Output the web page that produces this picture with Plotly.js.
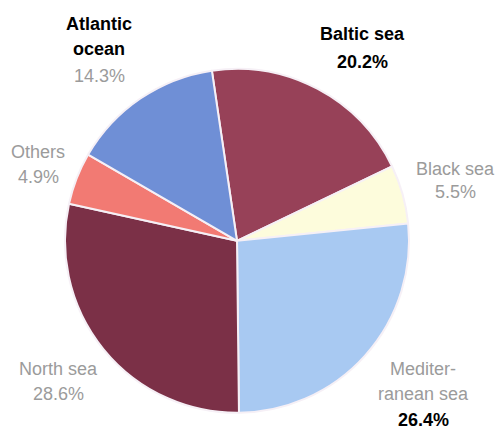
<!DOCTYPE html>
<html>
<head>
<meta charset="utf-8">
<script src="https://cdn.plot.ly/plotly-3.0.1.min.js"></script>
<style>html,body{margin:0;padding:0;background:#fff;}#chart{width:500px;height:430px;}</style>
</head>
<body>
<div id="chart"></div>
<script>
var categories = ["Baltic sea", "Black sea", "Mediterranean sea", "North sea", "Others", "Atlantic ocean"];
var nameLines = [["Baltic sea"], ["Black sea"], ["Mediter-", "ranean sea"], ["North sea"], ["Others"], ["Atlantic", "ocean"]];
var shares = [20.2, 5.5, 26.4, 28.6, 4.9, 14.3];
var sliceColors = ["#974158", "#fdfcdc", "#a8c9f2", "#7b3047", "#f27a73", "#6f8fd6"];
var nameBold = [true, false, false, false, false, true];
var pctBold = [true, false, true, false, false, false];

// label layout: horizontal centre (px) and baseline of each text line (px), top to bottom
var labelX = [362, 455, 423, 58, 38, 99];
var labelBaselines = [[40, 68], [175, 198], [375, 400, 426], [375, 400], [158, 183], [30, 55, 82]];

var W = 500, H = 430, FS = 18;
var grey = "#9b9b9b";

var annotations = [];
categories.forEach(function (c, i) {
  var lines = nameLines[i].map(function (s) { return {t: s, bold: nameBold[i]}; });
  lines.push({t: shares[i].toFixed(1) + "%", bold: pctBold[i]});
  lines.forEach(function (ln, k) {
    var base = labelBaselines[i][k];
    annotations.push({
      xref: "paper", yref: "paper",
      x: labelX[i] / W, y: 1 - (base - 6) / H,
      xanchor: "center", yanchor: "middle",
      text: ln.bold ? "<b>" + ln.t + "</b>" : ln.t,
      showarrow: false,
      font: {family: "Liberation Sans, Arial, sans-serif", size: FS, color: ln.bold ? "#000000" : grey}
    });
  });
});

var trace = {
  type: "pie",
  labels: categories,
  values: shares,
  sort: false,
  direction: "clockwise",
  rotation: -8.4,
  textinfo: "none",
  hoverinfo: "label+percent",
  marker: {colors: sliceColors, line: {color: "#f6f0f6", width: 2}},
  domain: {x: [0.13, 0.818], y: [0.04, 0.84]}
};

var layout = {
  width: W, height: H,
  margin: {l: 0, r: 0, t: 0, b: 0},
  paper_bgcolor: "#ffffff",
  showlegend: false,
  annotations: annotations
};

Plotly.newPlot("chart", [trace], layout, {displayModeBar: false, staticPlot: true});
</script>
</body>
</html>
